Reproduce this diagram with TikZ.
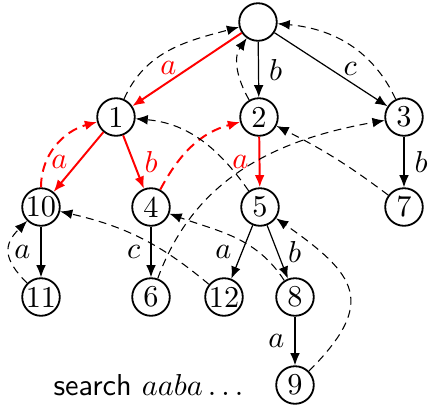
\documentclass[tikz,border=0pt]{standalone}
\usetikzlibrary{arrows.meta}
\begin{document}
\begin{tikzpicture}[x=0.33pt, y=-0.33pt,
  st/.style={circle, draw, line width=0.6pt, minimum size=12.4pt, inner sep=0pt},
  tip/.style={-{Latex[length=4pt,width=3.2pt]}},
  tr/.style={draw, tip, line width=0.4pt},
  hit/.style={draw, tip, red, line width=0.65pt},
  sl/.style={draw, tip, line width=0.35pt, dash pattern=on 2.6pt off 1.8pt},
  hsl/.style={draw, tip, red, line width=0.65pt, dash pattern=on 3.2pt off 2pt}]
\useasboundingbox (0,0) rectangle (432,407);

% states of the automaton
\node[st] (r)   at (258,22)  {};
\node[st] (n1)  at (116,117) {1};
\node[st] (n2)  at (259,117) {2};
\node[st] (n3)  at (404,117) {3};
\node[st] (n10) at (41,207)  {10};
\node[st] (n4)  at (151,207) {4};
\node[st] (n5)  at (260,207) {5};
\node[st] (n7)  at (404,207) {7};
\node[st] (n11) at (41,297)  {11};
\node[st] (n6)  at (151,297) {6};
\node[st] (n12) at (224,297) {12};
\node[st] (n8)  at (295,297) {8};
\node[st] (n9)  at (295,385) {9};
\node[anchor=east] (query) at ([xshift=-7pt]n9.west) {\textsf{search} $aaba\ldots$};

% goto edges
\draw[hit] (r) -- node[pos=0.67, above, inner sep=2pt] {$a$} (n1);
\draw[tr] (r) -- node[right] {$b$} (n2);
\draw[tr] (r) -- node[pos=0.67, above, inner sep=2pt] {$c$} (n3);
\draw[hit] (n1) -- node[left] {$a$} (n10);
\draw[hit] (n1) -- node[right] {$b$} (n4);
\draw[hit] (n2) -- node[left] {$a$} (n5);
\draw[tr] (n3) -- node[right] {$b$} (n7);
\draw[tr] (n10) -- node[left] {$a$} (n11);
\draw[tr] (n4) -- node[left] {$c$} (n6);
\draw[tr] (n5) -- node[left] {$a$} (n12);
\draw[tr] (n5) -- node[right] {$b$} (n8);
\draw[tr] (n8) -- node[left] {$a$} (n9);

% failure links
\draw[hsl] (n10) to[out=90, in=195] (n1);
\draw[hsl] (n4) to[out=62, in=195] (n2);
\draw[sl] (n1) to[out=66, in=195] (r);
\draw[sl] (n2) to[out=120, in=235] (r);
\draw[sl] (n3) to[out=115, in=-5] (r);
\draw[sl] (n5) to[out=125, in=-5] (n1);
\draw[sl] (n7) to[out=143, in=-27] (n2);
\draw[sl] (n6) to[out=70, in=190] (n3);
\draw[sl] (n12) to[out=140, in=-13] (n10);
\draw[sl] (n8) to[out=123, in=-20] (n4);
\draw[sl] (n9) to[out=45, in=-35, looseness=1.6] (n5);
\draw[sl] (n11) to[out=135, in=225, looseness=1.4] (n10);
\end{tikzpicture}
\end{document}
